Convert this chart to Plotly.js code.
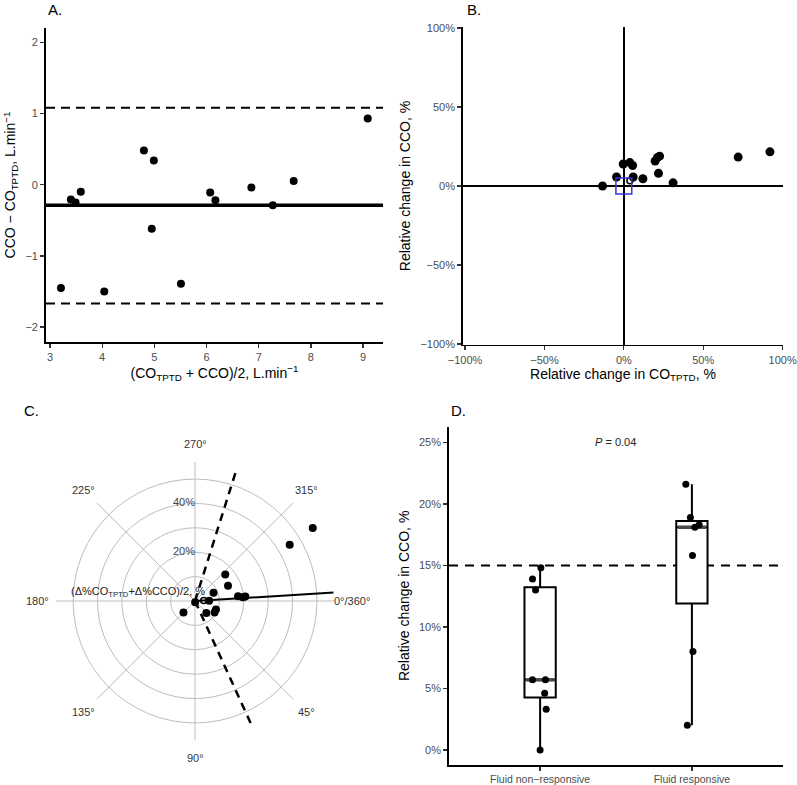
<!DOCTYPE html>
<html><head><meta charset="utf-8">
<script src="https://cdn.plot.ly/plotly-3.0.1.min.js"></script>
<style>html,body{margin:0;padding:0;background:#fff}#chart{width:797px;height:785px}</style>
</head><body><div id="chart"></div>
<script>
// ---------- Panel A: Bland-Altman ----------
const baMean = [3.21, 3.40, 3.49, 3.59, 4.04, 4.80, 4.99, 4.95, 5.51, 6.07, 6.17, 6.86, 7.27, 7.67, 9.09];
const baDiff = [-1.45, -0.21, -0.25, -0.10, -1.50, 0.48, 0.34, -0.62, -1.39, -0.11, -0.22, -0.04, -0.29, 0.05, 0.93];
const baBias = -0.29;
const baUpperLoA = 1.08;
const baLowerLoA = -1.67;
const baXTicks = [3, 4, 5, 6, 7, 8, 9];
const baYTicks = [-2, -1, 0, 1, 2];

// ---------- Panel B: four-quadrant plot ----------
const fqX = [-13.4, -4.6, -0.4, 3.8, 5.5, 5.9, 12.0, 92.0, 72.0, 19.7, 21.2, 22.5, 31.0, 21.8];
const fqY = [0.0, 5.7, 13.9, 14.8, 13.0, 5.7, 4.6, 21.6, 18.3, 15.8, 18.1, 18.9, 2.0, 8.0];
const fqExcludedX = [3.8];
const fqExcludedY = [3.3];
const exclusionZone = 5;
const fqTicks = [-100, -50, 0, 50, 100];
const fqTickLabels = ['\u2212100%', '\u221250%', '0%', '50%', '100%'];

// ---------- Panel C: polar plot ----------
const polarR = [6.7, 0.55, 6.75, 9.3, 9.25, 5.8, 8.3, 56.8, 45.15, 17.75, 19.65, 20.7, 16.5, 14.9];
const polarTheta = [135, 83.9, 46.6, 30.6, 22.1, 359.0, 336.0, 328.2, 329.3, 353.7, 355.5, 355.0, 318.7, 335.2];
const polarExcludedR = [3.55];
const polarExcludedTheta = [356.0];
const polarBiasAngle = 356.5;
const polarLoAAngles = [65.5, 287.5];
const polarMaxR = 57;
const polarRingTicks = [10, 20, 30, 40, 50];
const polarRingLabelVals = [20, 40];
const polarRingLabels = ['20%', '40%'];
const polarAngleTicks = [0, 45, 90, 135, 180, 225, 270, 315];
const polarAngleLabels = ['0°/360°', '45°', '90°', '135°', '180°', '225°', '270°', '315°'];
const polarLabelRadius = 64.4;

// ---------- Panel D: box plot ----------
const groups = ['Fluid non\u2212responsive', 'Fluid responsive'];
const nonRespValues = [14.8, 13.9, 13.0, 5.7, 5.7, 4.6, 3.3, 0.0];
const nonRespJitter = [0.005, -0.05, -0.03, -0.05, 0.035, 0.03, 0.04, 0.0];
const respValues = [21.6, 18.9, 18.1, 18.3, 15.8, 8.0, 2.0];
const respJitter = [-0.04, -0.01, 0.02, 0.048, 0.004, 0.007, -0.03];
const boxQ1 = [4.27, 11.9];
const boxMedian = [5.7, 18.1];
const boxQ3 = [13.22, 18.6];
const boxLower = [0.0, 2.0];
const boxUpper = [14.8, 21.6];
const responseThreshold = 15;
const dTicks = [0, 5, 10, 15, 20, 25];
const dTickLabels = ['0%', '5%', '10%', '15%', '20%', '25%'];
const pValueLabel = '<i>P</i> = 0.04';

const FONT = 'Liberation Sans, Arial, Helvetica, sans-serif';
const TICKC = '#4d4d4d';
const boxHalf = 0.103;
const W = 797, H = 785;
const polarDomX = [0.0703, 0.4191], polarDomY = [0.0573, 0.4115];

const traces = [];
// A
traces.push({type: 'scatter', mode: 'markers', x: baMean, y: baDiff, xaxis: 'x', yaxis: 'y',
  marker: {color: 'black', size: 8}});
// B
traces.push({type: 'scatter', mode: 'markers', x: fqX, y: fqY, xaxis: 'x2', yaxis: 'y2',
  marker: {color: 'black', size: 9}, cliponaxis: false});
traces.push({type: 'scatter', mode: 'markers', x: fqExcludedX, y: fqExcludedY, xaxis: 'x2', yaxis: 'y2',
  marker: {color: 'black', size: 6, symbol: 'circle-open', line: {width: 1.5, color: 'black'}}});
// C
traces.push({type: 'scatterpolar', mode: 'lines', r: [0, polarMaxR], theta: [polarBiasAngle, polarBiasAngle],
  line: {color: 'black', width: 2}, subplot: 'polar', cliponaxis: false});
polarLoAAngles.forEach(a => traces.push({type: 'scatterpolar', mode: 'lines', r: [0, polarMaxR], theta: [a, a],
  line: {color: 'black', width: 2.5, dash: '8px,6px'}, subplot: 'polar', cliponaxis: false}));
traces.push({type: 'scatterpolar', mode: 'markers', r: polarR, theta: polarTheta,
  marker: {color: 'black', size: 8}, subplot: 'polar', cliponaxis: false});
traces.push({type: 'scatterpolar', mode: 'markers', r: polarExcludedR, theta: polarExcludedTheta,
  marker: {color: 'black', size: 6, symbol: 'circle-open', line: {width: 1.5, color: 'black'}}, subplot: 'polar'});
traces.push({type: 'scatterpolar', mode: 'text', r: polarRingLabelVals, theta: polarRingLabelVals.map(() => 270),
  text: polarRingLabels, textposition: 'middle left', textfont: {family: FONT, size: 11, color: '#444'},
  subplot: 'polar', cliponaxis: false, hoverinfo: 'skip'});
// D
traces.push({type: 'box', x: [1, 2], q1: boxQ1, median: boxMedian, q3: boxQ3, lowerfence: boxLower, upperfence: boxUpper,
  width: 2 * boxHalf, whiskerwidth: 0, fillcolor: 'white', line: {color: 'black', width: 2},
  boxpoints: false, xaxis: 'x3', yaxis: 'y3'});
[1, 2].forEach((g, i) => traces.push({type: 'scatter', mode: 'lines', x: [g - boxHalf + 0.01, g + boxHalf - 0.01],
  y: [boxMedian[i], boxMedian[i]], xaxis: 'x3', yaxis: 'y3', line: {color: '#4a4a4a', width: 3.5}, hoverinfo: 'skip'}));
traces.push({type: 'scatter', mode: 'markers', x: nonRespJitter.map(j => 1 + j), y: nonRespValues, xaxis: 'x3', yaxis: 'y3',
  marker: {color: 'black', size: 7}});
traces.push({type: 'scatter', mode: 'markers', x: respJitter.map(j => 2 + j), y: respValues, xaxis: 'x3', yaxis: 'y3',
  marker: {color: 'black', size: 7}});

const axBase = {showline: true, linecolor: 'black', linewidth: 1.8, ticks: 'outside', ticklen: 4, tickwidth: 1.3,
  tickcolor: '#333', showgrid: false, zeroline: false, tickfont: {family: FONT, size: 11, color: TICKC}};
const titleFont = {family: FONT, size: 14, color: 'black'};

// angular labels of the polar panel, placed as annotations around the polar circle
const pcx = (polarDomX[0] + polarDomX[1]) / 2;
const pcy = (polarDomY[0] + polarDomY[1]) / 2;
const pRadPx = (polarDomX[1] - polarDomX[0]) * W / 2;
const labRadPx = pRadPx * polarLabelRadius / polarMaxR;
const angleAnnots = polarAngleTicks.map((t, i) => ({
  text: polarAngleLabels[i], xref: 'paper', yref: 'paper',
  x: pcx + labRadPx * Math.cos(t * Math.PI / 180) / W,
  y: pcy - labRadPx * Math.sin(t * Math.PI / 180) / H,
  xanchor: 'center', yanchor: 'middle', showarrow: false, font: {family: FONT, size: 11, color: '#333'}
}));

const layout = {
  width: W, height: H, margin: {l: 0, r: 0, t: 0, b: 0}, paper_bgcolor: 'white', plot_bgcolor: 'white',
  showlegend: false, font: {family: FONT},
  xaxis: Object.assign({}, axBase, {domain: [0.0577, 0.4806], range: [2.923, 9.383], tickvals: baXTicks, anchor: 'y',
    title: {text: '(CO<sub>TPTD</sub> + CCO)/2, L.min<sup>\u22121</sup>', font: titleFont, standoff: 4}}),
  yaxis: Object.assign({}, axBase, {domain: [0.5643, 0.9643], range: [-2.21, 2.2], tickvals: baYTicks, anchor: 'x',
    title: {text: 'CCO \u2212 CO<sub>TPTD</sub>, L.min<sup>\u22121</sup>', font: titleFont, standoff: 6}}),
  xaxis2: Object.assign({}, axBase, {domain: [0.5809, 0.9824], range: [-101.3, 100.2], tickvals: fqTicks, ticktext: fqTickLabels,
    anchor: 'y2', zeroline: true, zerolinecolor: 'black', zerolinewidth: 2,
    title: {text: 'Relative change in CO<sub>TPTD</sub>, %', font: titleFont, standoff: 4}}),
  yaxis2: Object.assign({}, axBase, {domain: [0.5611, 0.965], range: [-100.3, 100.3], tickvals: fqTicks, ticktext: fqTickLabels,
    anchor: 'x2', zeroline: true, zerolinecolor: 'black', zerolinewidth: 2,
    title: {text: 'Relative change in CCO, %', font: titleFont, standoff: 6}}),
  xaxis3: Object.assign({}, axBase, {domain: [0.5634, 0.9824], range: [0.4, 2.6], tickvals: [1, 2], ticktext: groups,
    anchor: 'y3', tickfont: {family: FONT, size: 10.5, color: TICKC}}),
  yaxis3: Object.assign({}, axBase, {domain: [0.0255, 0.4564], range: [-1.22, 26.27], tickvals: dTicks, ticktext: dTickLabels,
    anchor: 'x3', title: {text: 'Relative change in CCO, %', font: titleFont, standoff: 6}}),
  polar: {
    domain: {x: polarDomX, y: polarDomY}, bgcolor: 'white', hole: 0,
    angularaxis: {rotation: 0, direction: 'clockwise', tickvals: polarAngleTicks, showticklabels: false, ticks: '',
      showline: false, showgrid: true, gridcolor: '#bdbdbd', gridwidth: 1},
    radialaxis: {range: [0, polarMaxR], tickvals: polarRingTicks, showticklabels: false, ticks: '', showline: false,
      showgrid: true, gridcolor: '#bdbdbd', gridwidth: 1, angle: 90}
  },
  shapes: [
    {type: 'line', xref: 'x domain', yref: 'y', x0: 0, x1: 1, y0: baBias, y1: baBias, line: {color: 'black', width: 3.5}},
    {type: 'line', xref: 'x domain', yref: 'y', x0: 0, x1: 1, y0: baUpperLoA, y1: baUpperLoA, line: {color: 'black', width: 2, dash: '9px,6px'}},
    {type: 'line', xref: 'x domain', yref: 'y', x0: 0, x1: 1, y0: baLowerLoA, y1: baLowerLoA, line: {color: 'black', width: 2, dash: '9px,6px'}},
    {type: 'rect', xref: 'x2', yref: 'y2', x0: -exclusionZone, x1: exclusionZone, y0: -exclusionZone, y1: exclusionZone,
      line: {color: '#3838d0', width: 1.5}, fillcolor: 'rgba(0,0,0,0)'},
    {type: 'line', xref: 'x3 domain', yref: 'y3', x0: 0, x1: 1, y0: responseThreshold, y1: responseThreshold,
      line: {color: 'black', width: 2, dash: '9px,7px'}, layer: 'below'}
  ],
  annotations: [
    {text: 'A.', xref: 'paper', yref: 'paper', x: 0.0577, y: 0.9873, xanchor: 'left', yanchor: 'middle', showarrow: false, font: {family: FONT, size: 15, color: 'black'}},
    {text: 'B.', xref: 'paper', yref: 'paper', x: 0.5834, y: 0.9873, xanchor: 'left', yanchor: 'middle', showarrow: false, font: {family: FONT, size: 15, color: 'black'}},
    {text: 'C.', xref: 'paper', yref: 'paper', x: 0.0276, y: 0.4777, xanchor: 'left', yanchor: 'middle', showarrow: false, font: {family: FONT, size: 15, color: 'black'}},
    {text: 'D.', xref: 'paper', yref: 'paper', x: 0.5634, y: 0.4777, xanchor: 'left', yanchor: 'middle', showarrow: false, font: {family: FONT, size: 15, color: 'black'}},
    {text: '(\u0394%CO<sub>TPTD</sub>+\u0394%CCO)/2, %', xref: 'paper', yref: 'paper', x: 0.2597, y: 0.2459,
      xanchor: 'right', yanchor: 'middle', showarrow: false, font: {family: FONT, size: 11, color: '#222'}},
    {text: pValueLabel, xref: 'x3', yref: 'y3', x: 1.5, y: 25, xanchor: 'center', yanchor: 'middle', showarrow: false,
      font: {family: FONT, size: 11, color: '#222'}}
  ].concat(angleAnnots)
};

Plotly.newPlot('chart', traces, layout, {displayModeBar: false, staticPlot: true});
</script>
</body></html>
